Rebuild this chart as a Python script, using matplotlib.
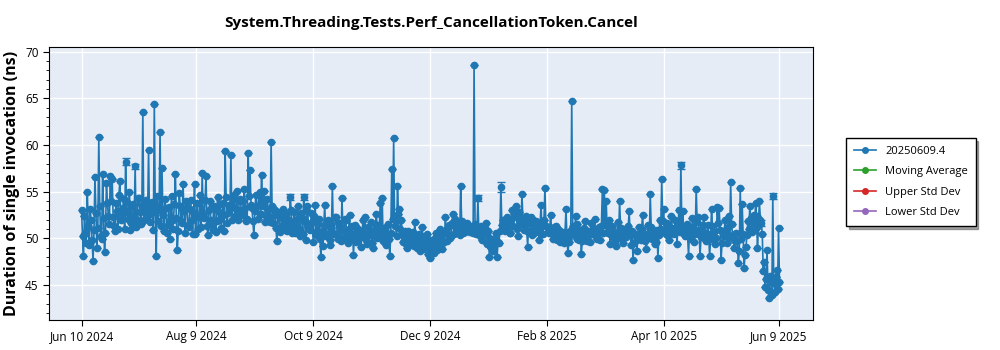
import numpy as np
import pandas as pd
import matplotlib as mpl
mpl.use('Agg')
import matplotlib.pyplot as plt
import matplotlib.dates as mdates
from matplotlib.lines import Line2D
from matplotlib.ticker import MultipleLocator

plt.rcParams['font.family'] = ['Open Sans', 'DejaVu Sans']

start_date = "2024-06-10"
# morning runs, one per day, Jun 10 2024 .. Jun 9 2025
values_am = [
    53.0, 48.1, 50.6, 55.0, 49.3, 51.9, 47.6,
    56.6, 49.0, 60.8, 50.2, 56.9, 48.5, 55.9,
    52.4, 56.7, 56.4, 51.3, 53.8, 51.0, 56.1,
    52.5, 54.2, 58.2, 52.8, 55.0, 51.6, 53.7,
    57.7, 52.0, 54.3, 51.5, 63.5, 53.0, 52.1,
    59.5, 52.6, 53.9, 64.4, 48.1, 51.8, 61.4,
    57.5, 50.8, 53.2, 51.4, 49.9, 54.5, 52.0,
    56.9, 48.7, 54.9, 51.8, 55.8, 50.6, 53.3,
    51.2, 54.1, 50.5, 55.8, 52.4, 51.0, 54.6,
    57.0, 52.2, 56.7, 50.3, 54.0, 51.5, 53.4,
    50.7, 54.4, 52.0, 51.1, 53.8, 59.3, 51.6,
    53.6, 58.9, 54.2, 52.4, 55.1, 53.0, 54.0,
    52.5, 55.3, 51.8, 59.1, 57.3, 53.2, 50.3,
    54.6, 52.1, 55.0, 56.8, 53.5, 51.7, 54.2,
    52.0, 60.3, 51.6, 53.0, 49.7, 52.4, 51.2,
    53.1, 50.9, 52.6, 51.4, 54.4, 50.6, 52.8,
    51.3, 53.5, 50.2, 52.2, 54.4, 49.8, 53.4,
    51.0, 52.7, 49.6, 53.6, 50.8, 52.1, 48.0,
    49.2, 53.6, 50.4, 51.6, 49.3, 55.6, 50.5,
    52.3, 49.9, 51.2, 54.3, 50.1, 52.0, 49.5,
    52.5, 50.3, 48.2, 51.4, 49.7, 50.8, 49.1,
    51.9, 52.3, 49.4, 50.6, 51.7, 49.0, 50.9,
    52.6, 50.2, 53.8, 54.3, 50.0, 49.3, 51.5,
    48.1, 57.4, 60.7, 51.8, 55.6, 53.1, 52.0,
    49.6, 50.8, 48.9, 50.3, 49.4, 50.7, 51.7,
    49.0, 50.5, 48.6, 51.2, 49.5, 50.1, 48.3,
    47.9, 49.8, 48.4, 50.6, 49.1, 51.0, 48.8,
    50.4, 52.3, 49.7, 51.4, 50.2, 52.6, 52.1,
    50.8, 51.5, 55.6, 50.6, 51.2, 50.9, 51.4,
    50.7, 51.1, 68.6, 50.5, 54.3, 50.2, 49.8,
    50.6, 51.6, 49.4, 48.0, 49.0, 48.6, 50.0,
    48.0, 49.5, 55.5, 51.9, 50.8, 52.3, 51.4,
    50.6, 53.0, 52.6, 53.5, 50.2, 51.8, 54.7,
    50.9, 52.4, 49.1, 51.6, 50.3, 52.0, 50.7,
    51.5, 49.8, 53.6, 50.4, 55.4, 51.2, 50.6,
    52.5, 49.9, 50.8, 51.3, 50.2, 49.6, 50.7,
    49.5, 53.1, 48.4, 50.2, 64.7, 51.0, 52.4,
    51.5, 49.8, 48.3, 50.5, 51.8, 49.7, 50.3,
    51.6, 50.4, 52.1, 49.9, 51.2, 50.7, 55.3,
    55.2, 54.0, 50.6, 49.4, 51.3, 50.0, 49.2,
    51.7, 54.0, 50.3, 49.5, 51.0, 50.6, 52.9,
    49.3, 47.7, 50.4, 48.6, 51.2, 49.8, 52.5,
    50.1, 48.8, 51.4, 54.7, 49.9, 50.7, 49.6,
    47.9, 52.0, 56.3, 53.1, 50.4, 51.6, 49.8,
    52.4, 50.6, 51.9, 49.4, 53.0, 57.8, 52.9,
    50.2, 51.5, 48.1, 50.8, 52.2, 49.6, 55.3,
    52.3, 48.1, 50.9, 52.3, 49.7, 51.4, 48.1,
    53.1, 50.2, 49.4, 53.3, 53.2, 47.7, 50.8,
    51.9, 49.5, 52.4, 56.0, 50.3, 48.9, 50.6,
    47.3, 55.4, 53.7, 46.8, 49.1, 51.8, 53.4,
    50.7, 52.5, 53.8, 48.9, 54.0, 51.6, 46.5,
    44.8, 48.7, 43.6, 45.5, 54.5, 44.2, 46.6,
    51.1,
]
# afternoon runs, same days
values_pm = [
    50.2, 52.4, 49.5, 51.3, 53.1, 49.8, 50.9,
    52.7, 51.1, 53.4, 49.9, 52.2, 50.6, 53.8,
    51.5, 54.0, 52.3, 50.8, 52.9, 54.6, 51.9,
    53.2, 51.0, 53.9, 52.1, 50.9, 53.5, 52.4,
    51.2, 54.3, 52.8, 53.6, 51.9, 54.1, 52.6,
    51.7, 53.4, 50.9, 52.8, 54.5, 53.0, 51.3,
    52.5, 54.2, 50.6, 53.3, 52.1, 51.0, 53.7,
    52.2, 50.8, 53.5, 51.6, 52.9, 54.0, 51.4,
    53.1, 51.9, 52.7, 50.4, 53.8, 52.3, 51.2,
    52.6, 54.1, 51.3, 53.0, 52.0, 50.9, 53.2,
    51.8, 52.9, 53.7, 52.4, 50.8, 54.4, 52.7,
    53.3, 52.0, 54.6, 53.1, 51.9, 54.2, 52.8,
    54.0, 53.2, 52.1, 54.5, 53.6, 51.8, 52.9,
    53.5, 54.7, 52.6, 53.9, 55.1, 52.4, 53.0,
    51.7, 53.4, 52.5, 51.1, 52.8, 50.7, 52.2,
    51.6, 52.3, 50.8, 51.9, 53.0, 51.2, 50.6,
    52.1, 51.0, 52.7, 50.5, 51.8, 52.9, 51.3,
    50.9, 51.7, 52.4, 50.3, 51.5, 49.9, 50.8,
    51.4, 50.2, 52.0, 49.8, 51.1, 50.6, 52.3,
    50.4, 51.6, 49.7, 50.9, 52.1, 50.2, 51.0,
    49.9, 51.3, 50.5, 49.6, 51.0, 50.1, 50.7,
    50.5, 49.8, 51.2, 50.3, 49.5, 50.8, 51.5,
    50.0, 51.4, 50.7, 49.7, 51.1, 50.4, 49.9,
    50.6, 52.1, 51.3, 50.2, 52.6, 51.0, 50.4,
    50.1, 49.4, 50.8, 49.9, 50.6, 49.2, 50.3,
    49.7, 49.1, 50.2, 48.8, 49.6, 50.5, 49.3,
    48.9, 49.5, 50.0, 48.7, 49.8, 49.3, 50.4,
    49.6, 50.7, 51.2, 50.0, 51.6, 50.5, 51.1,
    51.4, 50.3, 51.8, 51.1, 50.7, 51.6, 50.9,
    51.2, 50.6, 51.5, 51.0, 50.4, 51.3, 50.8,
    51.1, 50.3, 50.8, 49.2, 49.9, 49.4, 50.6,
    49.6, 50.8, 51.4, 52.0, 51.1, 51.7, 50.6,
    51.9, 51.3, 52.4, 51.0, 52.8, 51.5, 52.1,
    51.4, 50.8, 51.9, 52.3, 51.0, 50.6, 51.8,
    50.9, 51.6, 50.5, 52.0, 51.3, 50.7, 51.1,
    50.6, 51.2, 50.1, 49.8, 50.9, 50.4, 49.9,
    50.7, 50.1, 49.6, 50.9, 51.3, 50.5, 49.9,
    50.3, 50.9, 49.7, 51.1, 50.2, 50.8, 49.6,
    50.5, 51.0, 50.2, 50.8, 49.8, 51.3, 50.6,
    51.4, 50.7, 51.9, 50.3, 50.8, 49.7, 50.5,
    50.2, 51.1, 49.9, 50.6, 50.1, 51.3, 50.4,
    50.8, 49.5, 50.2, 49.9, 50.6, 51.0, 50.3,
    49.7, 50.5, 50.0, 51.2, 50.6, 49.4, 50.9,
    50.3, 51.0, 51.8, 50.7, 51.4, 50.2, 50.8,
    51.1, 50.4, 50.9, 51.5, 50.7, 51.3, 50.6,
    51.0, 50.3, 50.8, 49.9, 51.2, 50.5, 51.7,
    50.9, 50.1, 51.4, 50.6, 49.8, 50.4, 49.9,
    51.3, 50.7, 50.0, 51.6, 50.9, 49.5, 50.2,
    50.6, 51.2, 50.1, 51.5, 49.8, 50.4, 49.7,
    48.6, 49.9, 50.5, 48.2, 50.3, 51.0, 52.2,
    51.6, 50.9, 52.4, 51.3, 52.0, 50.5, 47.5,
    45.6, 44.5, 46.0, 43.9, 45.2, 45.8, 44.6,
    45.3,
]
# visible error bars (morning run index -> half width)
errors = {23: 0.35, 28: 0.3, 109: 0.3, 116: 0.3, 207: 0.3, 219: 0.5,
          313: 0.4, 355: 0.3, 361: 0.3}

series_name = "20250609.4"
other_series = ["Moving Average", "Upper Std Dev", "Lower Std Dev"]
other_colors = ["tab:green", "tab:red", "tab:purple"]
tick_dates = ["2024-06-10", "2024-08-09", "2024-10-09", "2024-12-09",
              "2025-02-08", "2025-04-10", "2025-06-09"]

days = pd.date_range(start_date, periods=len(values_am), freq="D")
times = []
vals = []
errs = []
for i, d in enumerate(days):
    times += [d, d + pd.Timedelta(hours=12)]
    vals += [values_am[i], values_pm[i]]
    errs += [errors.get(i, 0.0), 0.0]

blue = "#1f77b4"
fig = plt.figure(figsize=(10, 3.5), dpi=100)
ax = fig.add_axes([0.049, 0.086, 0.764, 0.78])
ax.set_facecolor("#e5ecf6")

ax.errorbar(times, vals, yerr=errs, color=blue, marker="o", markersize=4.5,
            linewidth=1.2, capsize=3, elinewidth=1)

ax.set_xlim(pd.Timestamp("2024-05-24"), pd.Timestamp("2025-06-27"))
ax.set_ylim(41.25, 70.5)
ax.set_xticks(pd.to_datetime(tick_dates))
ax.xaxis.set_major_formatter(mdates.DateFormatter("%b %-d %Y"))
ax.yaxis.set_major_locator(MultipleLocator(5))
ax.yaxis.set_minor_locator(MultipleLocator(1))
ax.grid(True, color="white", linewidth=1)
ax.set_axisbelow(True)
ax.tick_params(labelsize=8.5, length=4)
ax.tick_params(which="minor", length=2)
for s in ax.spines.values():
    s.set_color("black")

ax.set_ylabel("Duration of single invocation (ns)", fontsize=11.5, fontweight="bold")
ax.set_title("System.Threading.Tests.Perf_CancellationToken.Cancel",
             fontsize=11, fontweight="bold", pad=14)

handles = [Line2D([], [], color=c, marker="o", markersize=4, linewidth=1.2)
           for c in [blue] + other_colors]
leg = fig.legend(handles, [series_name] + other_series, loc="center",
                 bbox_to_anchor=(0.911, 0.48), fontsize=8,
                 fancybox=False, shadow=True, edgecolor="black", framealpha=1,
                 handlelength=2, borderpad=0.7, labelspacing=0.85)
leg.get_frame().set_linewidth(1)

plt.savefig("out.png", dpi=100)
